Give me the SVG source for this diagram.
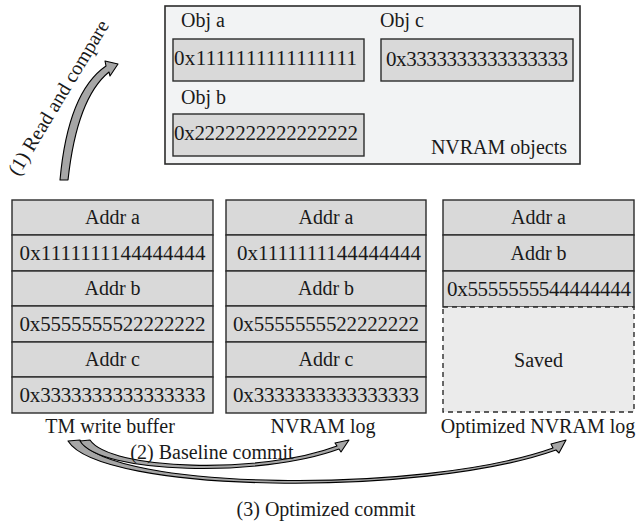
<svg xmlns="http://www.w3.org/2000/svg" width="639" height="526" viewBox="0 0 639 526">
<style>
text{font-family:"Liberation Serif","Times New Roman",serif;font-size:20px;fill:#1a1a1a}
.c{text-anchor:middle}
.hex{font-size:21px}
.cell{fill:#d9d9d9;stroke:#2b2b2b;stroke-width:1.4}
.outer{fill:#f2f3f4;stroke:#2b2b2b;stroke-width:1.6}
.saved{fill:#ebebeb;stroke:#2b2b2b;stroke-width:1.4;stroke-dasharray:5,4}
.arr{fill:#a6a6a6;stroke:#000;stroke-width:1.1;stroke-linejoin:round}
</style>
<rect width="639" height="526" fill="#fff"/>

<g id="nvram-objects">
<rect class="outer" x="165" y="6" width="415" height="158"/>
<text x="181" y="27">Obj a</text>
<rect class="cell" x="173" y="39" width="191" height="42"/>
<text class="hex" x="174" y="65" textLength="183">0x1111111111111111</text>
<text x="380" y="27">Obj c</text>
<rect class="cell" x="381" y="39" width="192" height="42"/>
<text class="hex" x="386" y="66" textLength="182">0x3333333333333333</text>
<text x="181" y="104">Obj b</text>
<rect class="cell" x="173" y="114" width="191" height="42"/>
<text class="hex" x="174" y="140" textLength="184">0x2222222222222222</text>
<text x="567" y="154" text-anchor="end">NVRAM objects</text>
</g>

<g id="tm-write-buffer">
<rect class="cell" x="12" y="200" width="201" height="35"/>
<rect class="cell" x="12" y="235" width="201" height="36"/>
<rect class="cell" x="12" y="271" width="201" height="35"/>
<rect class="cell" x="12" y="306" width="201" height="36"/>
<rect class="cell" x="12" y="342" width="201" height="35"/>
<rect class="cell" x="12" y="377" width="201" height="36"/>
<text class="c" x="112.5" y="224">Addr a</text>
<text class="c hex" x="112.5" y="260" textLength="186">0x1111111144444444</text>
<text class="c" x="112.5" y="295">Addr b</text>
<text class="c hex" x="112.5" y="331" textLength="186">0x5555555522222222</text>
<text class="c" x="112.5" y="366">Addr c</text>
<text class="c hex" x="112.5" y="402" textLength="186">0x3333333333333333</text>
<text class="c" x="110" y="433">TM write buffer</text>
</g>

<g id="nvram-log">
<rect class="cell" x="226" y="200" width="200" height="35"/>
<rect class="cell" x="226" y="235" width="200" height="36"/>
<rect class="cell" x="226" y="271" width="200" height="35"/>
<rect class="cell" x="226" y="306" width="200" height="36"/>
<rect class="cell" x="226" y="342" width="200" height="35"/>
<rect class="cell" x="226" y="377" width="200" height="36"/>
<text class="c" x="326" y="224">Addr a</text>
<text class="c hex" x="329" y="260" textLength="184">0x1111111144444444</text>
<text class="c" x="326" y="295">Addr b</text>
<text class="c hex" x="326" y="331" textLength="186">0x5555555522222222</text>
<text class="c" x="326" y="366">Addr c</text>
<text class="c hex" x="326" y="402" textLength="186">0x3333333333333333</text>
<text class="c" x="323" y="433">NVRAM log</text>
</g>

<g id="optimized-nvram-log">
<rect class="cell" x="443" y="200" width="191" height="35"/>
<rect class="cell" x="443" y="235" width="191" height="36"/>
<rect class="cell" x="443" y="271" width="191" height="36"/>
<rect class="saved" x="443" y="307" width="191" height="105"/>
<text class="c" x="538.5" y="224">Addr a</text>
<text class="c" x="538.5" y="260">Addr b</text>
<text class="c hex" x="539" y="296" textLength="184">0x5555555544444444</text>
<text class="c" x="538.5" y="367">Saved</text>
<text class="c" x="538" y="433">Optimized NVRAM log</text>
</g>

<g id="connectors">
<path class="arr" d="M60,180 Q68,92 106,66 L105,61 L118,64 L110,76 L109,72 Q77,98 68,180 Z"/>
<text class="c" transform="translate(64,101) rotate(-59)">(1) Read and compare</text>
<path class="arr" d="M80,440 C110,490 420,495 553,448 L551,444 L566,440 L559,453 L556,450 C420,498 100,493 68,441 Z"/>
<path class="arr" d="M90,440 C110,470 260,475 337,446 L335,443 L349,440 L341,452 L339,449 C260,478 100,474 80,441 Z"/>
<text class="c" x="212" y="459">(2) Baseline commit</text>
<text class="c" x="326" y="516">(3) Optimized commit</text>
</g>
</svg>
